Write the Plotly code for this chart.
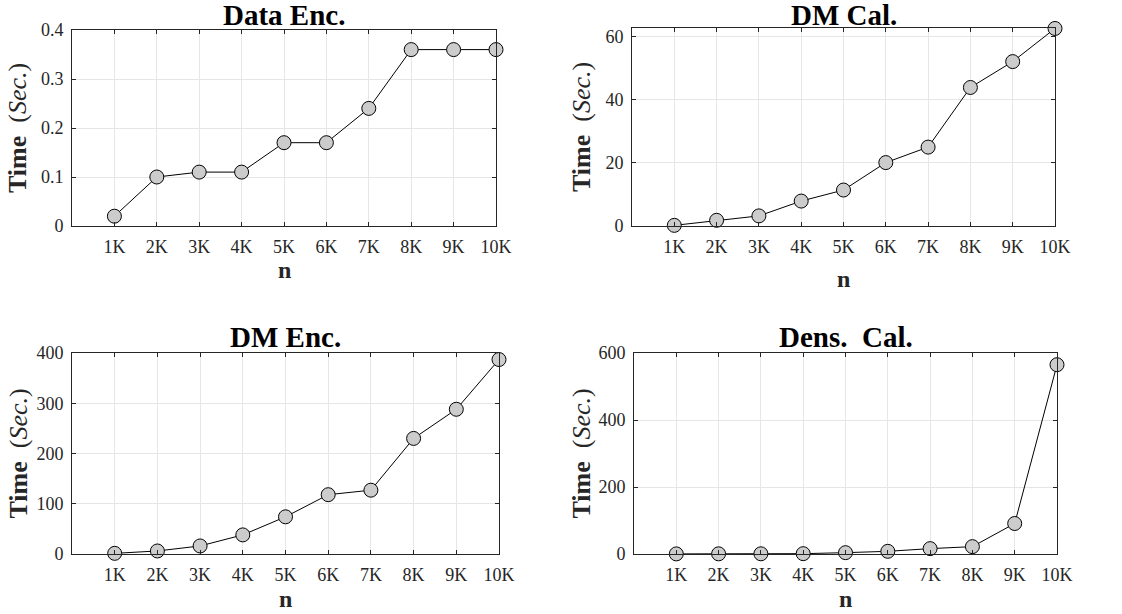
import plotly.graph_objects as go

# Dataset sizes (n) and timing results in seconds
n_labels = ["1K", "2K", "3K", "4K", "5K", "6K", "7K", "8K", "9K", "10K"]
n_pos = [1, 2, 3, 4, 5, 6, 7, 8, 9, 10]

data_enc = [0.02, 0.10, 0.11, 0.11, 0.17, 0.17, 0.24, 0.36, 0.36, 0.36]
dm_cal = [0.2, 1.8, 3.2, 7.9, 11.4, 20.1, 25.0, 43.9, 52.1, 62.6]
dm_enc = [1.3, 6, 16, 38, 74, 118, 127, 230, 288, 387]
dens_cal = [0.3, 0.5, 0.6, 1.0, 4, 8, 16, 22, 91, 565]

titles = ["Data Enc.", "DM Cal.", "DM Enc.", "Dens.&nbsp; Cal."]
series = [data_enc, dm_cal, dm_enc, dens_cal]
y_ranges = [[0, 0.4], [0, 62.75], [0, 400], [0, 600]]
y_ticks = [[0, 0.1, 0.2, 0.3, 0.4], [0, 20, 40, 60], [0, 100, 200, 300, 400], [0, 200, 400, 600]]
y_ticktext = [["0", "0.1", "0.2", "0.3", "0.4"], ["0", "20", "40", "60"],
              ["0", "100", "200", "300", "400"], ["0", "200", "400", "600"]]

W, H = 1122, 614
FONT = "Liberation Serif"
INK = "#262626"

# Plot-area boxes in pixels: (left, right, top, bottom)
boxes = [(72, 496, 30, 226), (632, 1055, 28, 226), (72, 499, 353, 554), (634, 1057, 353, 554)]
title_y = [15, 15, 337, 337]
xlabel_y = [270, 279, 599, 599]
ylabel_x = [18, 582, 18, 581]

fig = go.Figure()
layout = dict(
    width=W, height=H,
    margin=dict(l=0, r=0, t=0, b=0, autoexpand=False),
    paper_bgcolor="white", plot_bgcolor="white",
    showlegend=False,
    font=dict(family=FONT, color=INK, size=18),
)
annotations = []

for i, (vals, title) in enumerate(zip(series, titles)):
    ax = "" if i == 0 else str(i + 1)
    l, r, t, b = boxes[i]
    fig.add_trace(go.Scatter(
        x=n_pos, y=vals, mode="lines+markers",
        line=dict(color="black", width=1),
        marker=dict(symbol="circle", size=14, color="#cccccc",
                    line=dict(color="black", width=1)),
        xaxis="x" + ax, yaxis="y" + ax, cliponaxis=False,
    ))
    common = dict(
        showgrid=True, gridcolor="#e6e6e6", gridwidth=1,
        showline=True, linecolor=INK, linewidth=1, mirror="ticks",
        ticks="inside", ticklen=4, tickcolor=INK,
        tickfont=dict(family=FONT, size=18, color=INK),
        zeroline=False, fixedrange=True, automargin=False,
    )
    layout["xaxis" + ax] = dict(
        domain=[l / W, r / W], anchor="y" + ax,
        range=[0, 10], tickvals=n_pos, ticktext=n_labels,
        ticklabelstandoff=4, **common,
    )
    layout["yaxis" + ax] = dict(
        domain=[1 - b / H, 1 - t / H], anchor="x" + ax,
        range=y_ranges[i], tickvals=y_ticks[i], ticktext=y_ticktext[i],
        ticklabelstandoff=4, **common,
    )
    cx = (l + r) / 2 / W
    # subplot title
    annotations.append(dict(
        text="<b>" + title + "</b>", x=cx, y=1 - title_y[i] / H,
        xref="paper", yref="paper", showarrow=False,
        xanchor="center", yanchor="middle",
        font=dict(family=FONT, size=29, color="black"),
    ))
    # x-axis title
    annotations.append(dict(
        text="<b>n</b>", x=cx, y=1 - xlabel_y[i] / H,
        xref="paper", yref="paper", showarrow=False,
        xanchor="center", yanchor="middle",
        font=dict(family=FONT, size=24, color=INK),
    ))
    # y-axis title
    annotations.append(dict(
        text="<b>Time</b>&nbsp; (<i>Sec.</i>)", x=ylabel_x[i] / W, y=1 - (t + b) / 2 / H,
        xref="paper", yref="paper", showarrow=False, textangle=-90,
        xanchor="center", yanchor="middle",
        font=dict(family=FONT, size=26, color=INK),
    ))

layout["annotations"] = annotations
fig.update_layout(**layout)
fig.write_html("out.html")
